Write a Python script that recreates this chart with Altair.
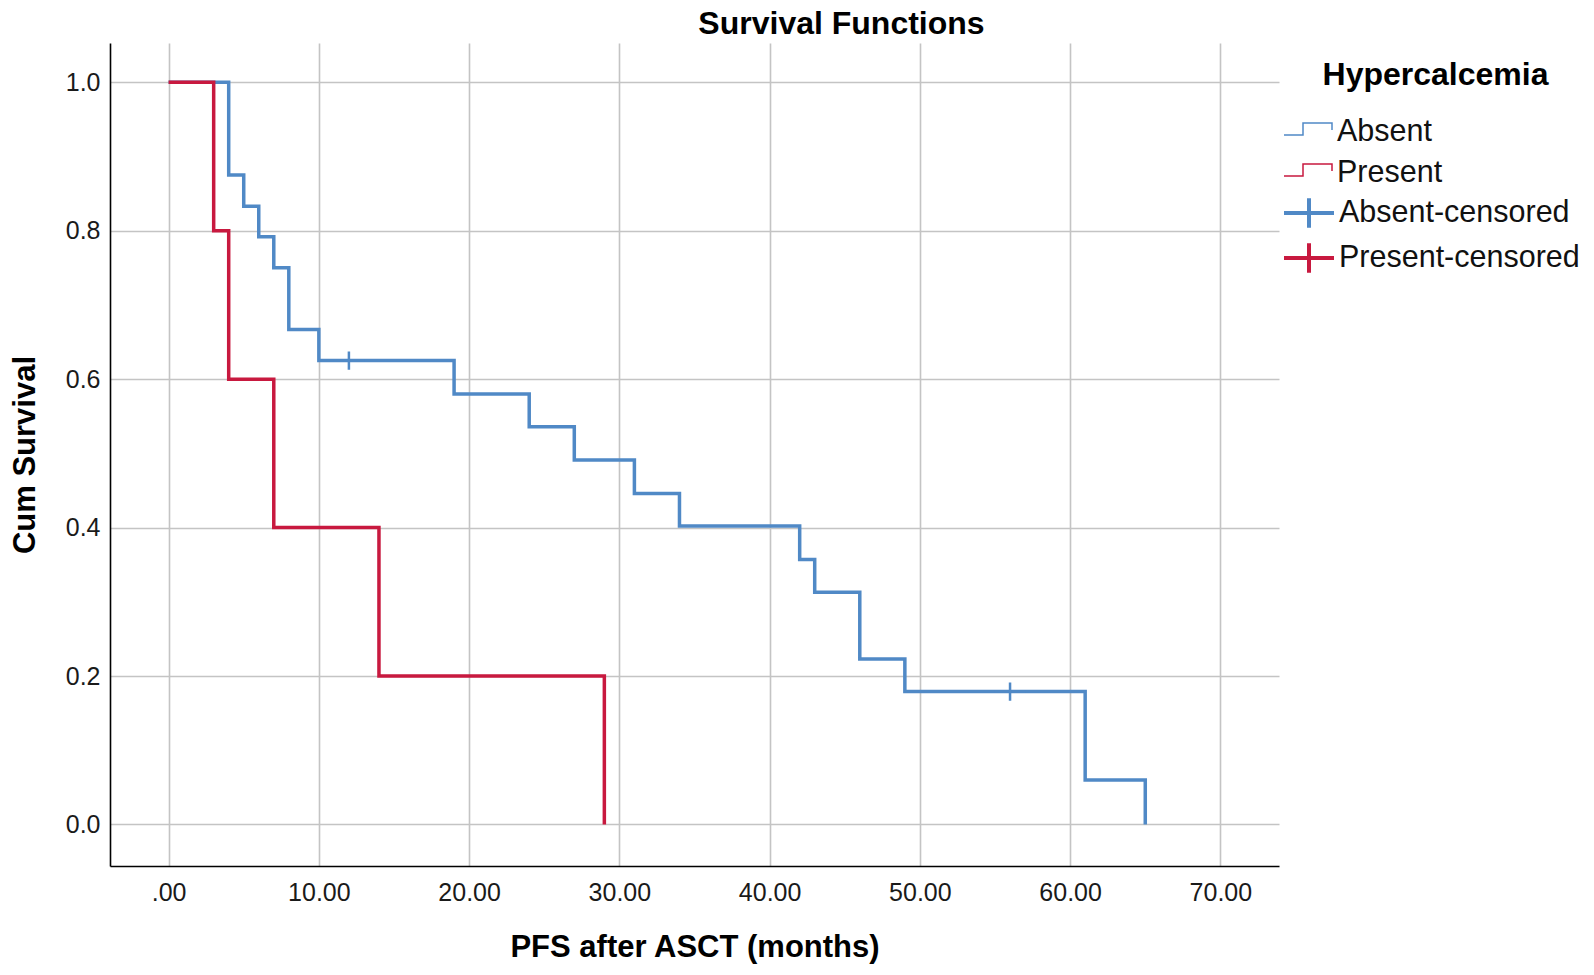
import altair as alt
import pandas as pd

# ---- data ----
absent_time = [0, 4, 5, 6, 7, 8, 10, 19, 24, 27, 31, 34, 42, 43, 46, 49, 61, 65]
absent_surv = [1.0, 0.875, 0.833, 0.792, 0.75, 0.667, 0.625, 0.58, 0.536, 0.491,
               0.446, 0.402, 0.357, 0.313, 0.223, 0.179, 0.06, 0.0]

present_time = [0, 3, 4, 7, 14, 29]
present_surv = [1.0, 0.8, 0.6, 0.4, 0.2, 0.0]

absent_cens_time = [12, 56]
absent_cens_surv = [0.625, 0.179]

line_names = ["Absent", "Present"]
cens_names = ["Absent-censored", "Present-censored"]
blue, red = "#5089c6", "#c8193f"
# legend/marker glyphs
step_path = "M0,-0.85M0,0.85M-1.2,0.15H-0.25V-0.45H1.2V-0.1"
cross_path = "M-1.25,0H1.25M0,-0.74V0.74"

x_ticks = [0, 10, 20, 30, 40, 50, 60, 70]
y_ticks = [0.0, 0.2, 0.4, 0.6, 0.8, 1.0]

lines_df = pd.DataFrame(
    {"time": absent_time + present_time,
     "surv": absent_surv + present_surv,
     "series": ["Absent"] * len(absent_time) + ["Present"] * len(present_time),
     "order": list(range(len(absent_time))) + list(range(len(present_time)))}
)
cens_df = pd.DataFrame(
    {"time": absent_cens_time,
     "surv": absent_cens_surv,
     "series": ["Absent-censored"] * len(absent_cens_time)}
)

FONT = "Liberation Sans"
# zero-width char keeps the non-breaking indent from being trimmed
INDENT = "\u200b" + "\u00a0" * 4

common_legend = dict(
    orient="none",
    legendX=1177,
    labelFontSize=30.5,
    labelFont=FONT,
    labelColor="#111111",
    labelOffset=8,
    labelLimit=600,
    symbolSize=1600,
    padding=0,
    symbolFillColor="transparent",
)

line_legend = alt.Legend(
    title=INDENT + "Hypercalcemia",
    legendY=17,
    titleFontSize=32,
    titleFont=FONT,
    titleFontWeight="bold",
    titleColor="#000000",
    titleAnchor="start",
    titleLimit=600,
    titlePadding=19,
    symbolType=step_path,
    symbolStrokeWidth=1.5,
    rowPadding=-4,
    **common_legend,
)
cens_legend = alt.Legend(
    title=None,
    legendY=148,
    symbolStrokeWidth=4,
    rowPadding=-7,
    **common_legend,
)

x_enc = alt.X(
    "time:Q",
    scale=alt.Scale(domain=[-3.9, 73.9], nice=False, zero=False),
    axis=alt.Axis(
        values=x_ticks,
        labelExpr="datum.value == 0 ? '.00' : format(datum.value, '.2f')",
        title="PFS after ASCT (months)",
    ),
)
y_enc = alt.Y(
    "surv:Q",
    scale=alt.Scale(domain=[-0.056, 1.053], nice=False, zero=False),
    axis=alt.Axis(values=y_ticks, format=".1f", title="Cum Survival"),
)

lines = alt.Chart(lines_df).mark_line(interpolate="step-after", strokeWidth=3.5).encode(
    x=x_enc,
    y=y_enc,
    color=alt.Color("series:N", scale=alt.Scale(domain=line_names, range=[blue, red]),
                    legend=line_legend),
    detail="series:N",
    order="order:Q",
)

cens = alt.Chart(cens_df).mark_point(
    filled=False, size=600, opacity=1, strokeWidth=2.5
).encode(
    x=x_enc,
    y=y_enc,
    stroke=alt.Stroke("series:N", scale=alt.Scale(domain=cens_names, range=[blue, red]),
                      legend=cens_legend),
    shape=alt.Shape("series:N", scale=alt.Scale(domain=cens_names, range=[cross_path, cross_path]),
                    legend=cens_legend),
)

chart = (
    alt.layer(lines, cens)
    .properties(
        width=1169,
        height=823,
        autosize=alt.AutoSizeParams(type="none"),
        padding={"left": 102, "top": 35, "right": 305, "bottom": 99},
        title=alt.Title(
            "Survival Functions",
            fontSize=32,
            font=FONT,
            fontWeight="bold",
            color="#000000",
            anchor="middle",
            dx=147,
            offset=2,
        ),
    )
    .configure_view(stroke=None)
    .configure_axis(
        grid=True,
        gridColor="#c4c4c4",
        gridWidth=1.6,
        domainColor="#000000",
        domainWidth=1.6,
        ticks=False,
        labelFont=FONT,
        labelFontSize=25,
        labelColor="#1a1a1a",
        titleFont=FONT,
        titleFontSize=31,
        titleFontWeight="bold",
        titleColor="#000000",
    )
    .configure_axisX(labelPadding=14, titlePadding=27)
    .configure_axisY(labelPadding=10, titlePadding=24)
)

chart.save("out.html", embed_options={"renderer": "svg", "actions": False})
